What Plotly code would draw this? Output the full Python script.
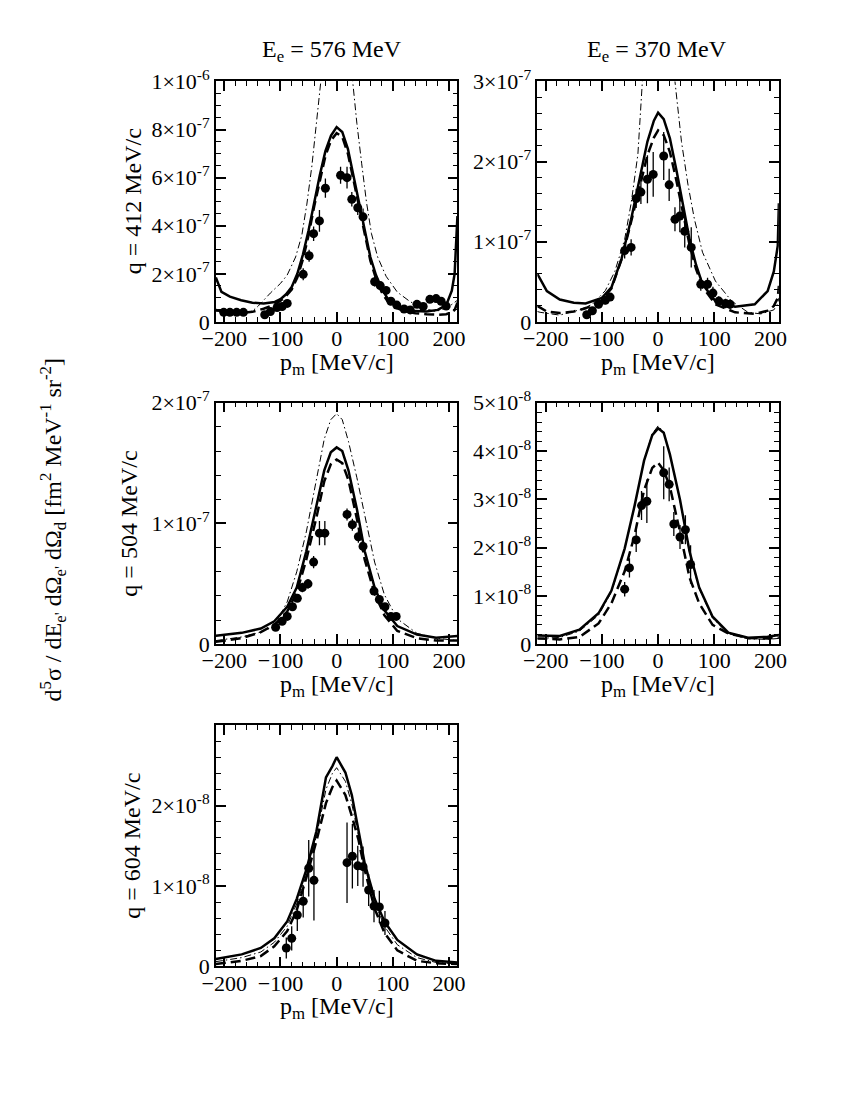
import numpy as np
import plotly.graph_objects as go
from plotly.subplots import make_subplots

# --- datos (p_m en MeV/c, secciones eficaces en unidades del panel) ---

# E_e = 576 MeV, q = 412 MeV/c  (x1e-7)
pm_a = [-215, -205, -190, -170, -150, -130, -110, -100, -90, -80, -70, -60, -50, -40, -30, -20, -10, 0, 10, 20,
        30, 40, 50, 60, 70, 80, 90, 100, 120, 140, 160, 180, 195, 205, 210, 215]
solid_a = [1.85, 1.25, 1.05, 0.9, 0.8, 0.77, 0.83, 0.95, 1.15, 1.45, 2.0, 2.8, 3.8, 5.0, 6.1, 7.1, 7.75, 8.1, 7.9, 7.2,
           6.1, 5.0, 3.8, 2.7, 1.95, 1.4, 1.0, 0.77, 0.55, 0.45, 0.43, 0.5, 0.7, 1.3, 2.0, 4.4]
dashed_a = [0.5, 0.45, 0.4, 0.38, 0.42, 0.55, 0.72, 0.88, 1.08, 1.35, 1.85, 2.6, 3.6, 4.8, 5.9, 6.9, 7.55, 7.85, 7.7, 7.0,
            5.9, 4.8, 3.6, 2.55, 1.8, 1.25, 0.88, 0.65, 0.45, 0.36, 0.32, 0.3, 0.32, 0.4, 0.5, 0.8]
pm_a_dd = [-215, -190, -169, -150, -140, -118, -100, -88, -73, -62, -53, -44, -36, -29, -20, 0, 20, 29, 36, 44.5,
           53, 62, 73, 88, 108, 131, 154, 177, 200, 215]
dd_a = [0.45, 0.38, 0.35, 0.45, 0.65, 1.2, 1.6, 1.95, 2.7, 3.6, 4.9, 6.5, 8.2, 9.9, 11.8, 13.5, 11.8, 9.9, 8.26, 6.6,
        5.0, 3.67, 2.7, 1.9, 1.24, 0.84, 0.57, 0.43, 0.64, 0.9]
pm_data_a = [-201, -190, -178, -166, -128, -118, -106, -97, -88, -59.5, -49, -41, -30.6, -20, 7, 18.5, 27, 37.6, 47, 67.6,
             77.5, 88, 96.6, 107, 120, 131, 143, 154, 166, 177, 186, 195]
val_a = [0.40, 0.40, 0.40, 0.40, 0.30, 0.43, 0.6, 0.64, 0.77, 1.98, 2.75, 3.67, 4.2, 5.56, 6.1, 6.0, 5.1, 4.75, 4.37, 1.67,
         1.51, 1.31, 0.86, 0.7, 0.54, 0.5, 0.73, 0.64, 0.94, 0.97, 0.86, 0.66]
err_a = [0.1, 0.1, 0.1, 0.1, 0.1, 0.1, 0.1, 0.1, 0.15, 0.25, 0.25, 0.3, 0.45, 0.4, 0.35, 0.45, 0.3, 0.3, 0.35, 0.2,
         0.15, 0.15, 0.15, 0.1, 0.1, 0.1, 0.15, 0.1, 0.15, 0.15, 0.15, 0.15]

# E_e = 370 MeV, q = 412 MeV/c  (x1e-7)
pm_b = [-215, -198, -175, -150, -129, -100, -83, -65, -48, -33.5, -19, -7.5, 0, 10, 21, 33, 44.5, 56, 67.6, 79,
        102, 137, 172, 195, 206, 213, 215]
solid_b = [0.6, 0.385, 0.28, 0.24, 0.23, 0.30, 0.43, 0.79, 1.28, 1.76, 2.25, 2.51, 2.61, 2.53, 2.29, 1.88, 1.44, 1.03, 0.71, 0.47,
           0.26, 0.19, 0.22, 0.385, 0.63, 0.95, 1.48]
dashed_b = [0.2, 0.13, 0.11, 0.13, 0.17, 0.27, 0.42, 0.78, 1.25, 1.68, 2.08, 2.3, 2.39, 2.33, 2.12, 1.75, 1.35, 0.96, 0.66, 0.44,
            0.22, 0.12, 0.1, 0.14, 0.2, 0.3, 0.45]
pm_b_dd = [-215, -210, -175, -140, -117, -94, -77, -59.5, -48, -36, -28, -15, 0, 15, 30, 41.6, 53, 64.7, 79, 102,
           131, 160, 183, 206, 213, 215]
dd_b = [0.13, 0.12, 0.085, 0.15, 0.22, 0.39, 0.63, 1.03, 1.48, 2.09, 3.0, 3.6, 3.9, 3.6, 3.0, 2.25, 1.72, 1.28, 0.87, 0.51,
        0.26, 0.12, 0.1, 0.15, 0.23, 0.3]
pm_data_b = [-127, -117, -106, -94, -85.5, -59.5, -48, -39, -30.6, -19, -8.7, 10, 19.7, 30, 38.7, 47.4, 59, 76, 88, 97.6,
             108, 120, 128]
val_b = [0.09, 0.14, 0.22, 0.27, 0.31, 0.89, 0.93, 1.54, 1.62, 1.78, 1.84, 2.07, 1.71, 1.28, 1.32, 1.13, 0.93, 0.47, 0.47, 0.36,
         0.26, 0.23, 0.22]
err_b = [0.04, 0.04, 0.05, 0.05, 0.05, 0.1, 0.1, 0.12, 0.15, 0.3, 0.28, 0.3, 0.2, 0.15, 0.2, 0.2, 0.25, 0.08, 0.08, 0.08,
         0.06, 0.06, 0.06]

# E_e = 576 MeV, q = 504 MeV/c  (x1e-7)
pm_c = [-215, -169, -135, -111, -88, -71, -54, -36, -22, -10.4, 0, 10, 21, 36, 50, 67.6, 85, 108, 143, 177, 215]
solid_c = [0.07, 0.094, 0.13, 0.19, 0.31, 0.47, 0.77, 1.14, 1.44, 1.59, 1.63, 1.6, 1.44, 1.12, 0.77, 0.47, 0.28, 0.15, 0.08, 0.054, 0.067]
dashed_c = [0.02, 0.05, 0.1, 0.16, 0.27, 0.43, 0.7, 1.05, 1.35, 1.49, 1.53, 1.5, 1.36, 1.04, 0.7, 0.42, 0.24, 0.11, 0.05, 0.03, 0.03]
dd_c = [0.03, 0.06, 0.1, 0.15, 0.35, 0.6, 0.93, 1.36, 1.7, 1.86, 1.91, 1.86, 1.68, 1.38, 1.08, 0.68, 0.41, 0.21, 0.09, 0.05, 0.03]
pm_data_c = [-108.6, -97, -88, -78.6, -70, -61, -51, -41, -30.6, -21, 18.5, 28, 38.7, 47, 66.5, 76, 86, 96.6, 106]
val_c = [0.14, 0.19, 0.23, 0.31, 0.38, 0.47, 0.50, 0.68, 0.92, 0.92, 1.075, 0.99, 0.89, 0.81, 0.44, 0.37, 0.31, 0.23, 0.23]
err_c = [0.03, 0.03, 0.03, 0.03, 0.03, 0.04, 0.04, 0.05, 0.1, 0.1, 0.05, 0.05, 0.05, 0.05, 0.03, 0.03, 0.03, 0.03, 0.03]

# E_e = 370 MeV, q = 504 MeV/c  (x1e-8)
pm_d = [-215, -175, -140, -106, -83, -59.5, -42, -25, -10.4, 0, 10, 21, 39, 56, 73, 97, 125, 160, 195, 215]
solid_d = [0.18, 0.17, 0.3, 0.64, 1.11, 1.98, 2.86, 3.8, 4.33, 4.47, 4.38, 3.93, 2.99, 1.92, 1.18, 0.57, 0.24, 0.135, 0.155, 0.19]
dashed_d = [0.12, 0.1, 0.15, 0.43, 0.85, 1.51, 2.25, 3.19, 3.65, 3.76, 3.6, 3.26, 2.32, 1.38, 0.85, 0.4, 0.22, 0.13, 0.12, 0.14]
dd_d = [0.12, 0.14, 0.27, 0.6, 1.08, 1.96, 2.85, 3.8, 4.36, 4.52, 4.4, 3.93, 2.97, 1.9, 1.15, 0.54, 0.22, 0.11, 0.1, 0.12]
pm_data_d = [-59.5, -51, -39, -29.5, -20, 10, 19.7, 28, 39, 48.6, 57.8]
val_d = [1.14, 1.58, 2.16, 2.87, 2.96, 3.55, 3.31, 2.49, 2.22, 2.37, 1.65]
err_d = [0.15, 0.2, 0.25, 0.3, 0.45, 0.55, 0.35, 0.25, 0.25, 0.3, 0.4]

# E_e = 576 MeV, q = 604 MeV/c  (x1e-8)
pm_e = [-215, -169, -135, -111, -88, -71, -54, -36, -19, -7.5, 0, 15.6, 27, 38.7, 50, 67.6, 85, 108, 143, 177, 215]
solid_e = [0.093, 0.15, 0.23, 0.35, 0.56, 0.84, 1.2, 1.68, 2.35, 2.49, 2.6, 2.41, 2.13, 1.68, 1.28, 0.84, 0.56, 0.33, 0.15, 0.07, 0.05]
dashed_e = [0.03, 0.07, 0.13, 0.25, 0.44, 0.7, 1.1, 1.56, 2.03, 2.23, 2.31, 2.13, 1.87, 1.58, 1.2, 0.72, 0.42, 0.2, 0.07, 0.04, 0.03]
dd_e = [0.06, 0.11, 0.18, 0.3, 0.5, 0.78, 1.14, 1.62, 2.2, 2.4, 2.47, 2.3, 2.02, 1.65, 1.25, 0.8, 0.5, 0.27, 0.11, 0.05, 0.03]
pm_data_e = [-89.6, -80, -70, -59.5, -49.7, -40.4, 18.5, 28, 37.6, 47, 57, 66.5, 76, 86]
val_e = [0.23, 0.35, 0.64, 0.81, 1.22, 1.07, 1.29, 1.37, 1.25, 1.24, 0.95, 0.75, 0.74, 0.54]
err_e = [0.13, 0.15, 0.2, 0.2, 0.35, 0.5, 0.5, 0.4, 0.25, 0.25, 0.2, 0.2, 0.2, 0.15]

FONT = "Liberation Serif, Times New Roman, serif"
TICK_SIZE = 22
TITLE_SIZE = 24

W, H = 850, 1100
OFF = 8  # margen del <body> de la pagina


def px(x):
    return (x - OFF) / W


def py(y):
    return 1 - (y - OFF) / H


def sup(m, e):
    return f"{m}×10<sup>{e}</sup>"


def add_panel(fig, row, col, scale, pm, solid, dashed, pm_dd, dd, pm_data, vals, errs):
    s = lambda v: (np.array(v) * scale).tolist()
    fig.add_trace(go.Scatter(x=pm_dd, y=s(dd), mode='lines',
                             line=dict(color='black', width=1, dash='7px,3px,1.5px,3px')), row=row, col=col)
    fig.add_trace(go.Scatter(x=pm, y=s(dashed), mode='lines',
                             line=dict(color='black', width=2.5, dash='10px,5px')), row=row, col=col)
    fig.add_trace(go.Scatter(x=pm, y=s(solid), mode='lines',
                             line=dict(color='black', width=2.5)), row=row, col=col)
    fig.add_trace(go.Scatter(x=pm_data, y=s(vals), mode='markers',
                             marker=dict(color='black', size=9),
                             error_y=dict(type='data', array=s(errs), color='black', thickness=1.3, width=0)),
                  row=row, col=col)


fig = make_subplots(rows=3, cols=2, specs=[[{}, {}], [{}, {}], [{}, None]])

add_panel(fig, 1, 1, 1e-7, pm_a, solid_a, dashed_a, pm_a_dd, dd_a, pm_data_a, val_a, err_a)
add_panel(fig, 1, 2, 1e-7, pm_b, solid_b, dashed_b, pm_b_dd, dd_b, pm_data_b, val_b, err_b)
add_panel(fig, 2, 1, 1e-7, pm_c, solid_c, dashed_c, pm_c, dd_c, pm_data_c, val_c, err_c)
add_panel(fig, 2, 2, 1e-8, pm_d, solid_d, dashed_d, pm_d, dd_d, pm_data_d, val_d, err_d)
add_panel(fig, 3, 1, 1e-8, pm_e, solid_e, dashed_e, pm_e, dd_e, pm_data_e, val_e, err_e)

# posiciones de los marcos en pixeles de la figura de referencia
col_px = {1: (207, 455), 2: (537, 785)}
row_px = {1: (67, 314), 2: (397, 645), 3: (728, 976)}
xdom = {c: [px(a), px(b)] for c, (a, b) in col_px.items()}
ydom = {r: [py(b), py(a)] for r, (a, b) in row_px.items()}

axis_style = dict(showline=True, linecolor='black', linewidth=1.5, mirror='allticks', ticks='inside',
                  tickcolor='black', tickwidth=1.5, ticklen=10, showgrid=False, zeroline=False,
                  tickfont=dict(family=FONT, size=TICK_SIZE, color='black'))

yticks = {
    (1, 1): ([0, 2e-7, 4e-7, 6e-7, 8e-7, 1e-6], ["0", sup(2, -7), sup(4, -7), sup(6, -7), sup(8, -7), sup(1, -6)], 1e-6, 5e-8),
    (1, 2): ([0, 1e-7, 2e-7, 3e-7], ["0", sup(1, -7), sup(2, -7), sup(3, -7)], 3e-7, 2e-8),
    (2, 1): ([0, 1e-7, 2e-7], ["0", sup(1, -7), sup(2, -7)], 2e-7, 2e-8),
    (2, 2): ([0, 1e-8, 2e-8, 3e-8, 4e-8, 5e-8], ["0", sup(1, -8), sup(2, -8), sup(3, -8), sup(4, -8), sup(5, -8)], 5e-8, 2e-9),
    (3, 1): ([0, 1e-8, 2e-8], ["0", sup(1, -8), sup(2, -8)], 3e-8, 2e-9),
}

ann_font = dict(family=FONT, size=TITLE_SIZE, color='black')
annotations = []

for (r, c), (tv, tt, top, mdt) in yticks.items():
    fig.update_xaxes(axis_style, domain=xdom[c], range=[-215, 215], tickmode='linear', tick0=0, dtick=100,
                     ticklabelstandoff=-4,
                     minor=dict(ticks='inside', ticklen=5, tickwidth=1.2, tickcolor='black', tick0=0, dtick=20),
                     row=r, col=c)
    fig.update_yaxes(axis_style, domain=ydom[r], range=[0, top], tickmode='array', tickvals=tv, ticktext=tt,
                     minor=dict(ticks='inside', ticklen=5, tickwidth=1.2, tickcolor='black', tick0=0, dtick=mdt),
                     row=r, col=c)
    xc = (col_px[c][0] + col_px[c][1]) / 2
    annotations.append(dict(text="p<sub>m</sub> [MeV/c]", x=px(xc), y=py(row_px[r][1] + 43)))

annotations += [
    dict(text="E<sub>e</sub> = 576 MeV", x=px(326), y=py(36)),
    dict(text="E<sub>e</sub> = 370 MeV", x=px(660), y=py(36)),
    dict(text="q = 412 MeV/c", x=px(122), y=py(190), textangle=-90),
    dict(text="q = 504 MeV/c", x=px(118), y=py(521), textangle=-90),
    dict(text="q = 604 MeV/c", x=px(121), y=py(852), textangle=-90),
    dict(text="d<sup>5</sup>σ / dE<sub>e'</sub> dΩ<sub>e'</sub> dΩ<sub>d</sub> [fm<sup>2</sup> MeV<sup>-1</sup> sr<sup>-2</sup>]",
         x=px(40), y=py(528), textangle=-90),
]
for a in annotations:
    fig.add_annotation(xref='paper', yref='paper', showarrow=False, xanchor='center', yanchor='middle',
                       font=ann_font, **a)

fig.update_layout(width=W, height=H, margin=dict(l=0, r=0, t=0, b=0), showlegend=False,
                  paper_bgcolor='white', plot_bgcolor='white', font=dict(family=FONT, color='black'))

fig.write_html("out.html")
